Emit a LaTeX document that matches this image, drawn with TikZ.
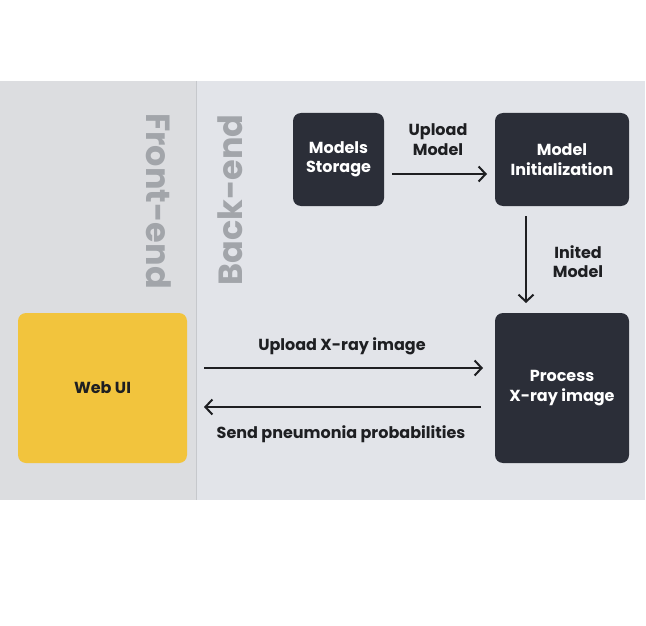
\documentclass[tikz,border=0pt]{standalone}
\usepackage{fontspec}
\setmainfont{Poppins}
\usetikzlibrary{arrows.meta}
\definecolor{febg}{HTML}{DCDDE0}
\definecolor{bebg}{HTML}{E2E4E9}
\definecolor{divline}{HTML}{C6C8CC}
\definecolor{darkbox}{HTML}{2B2E38}
\definecolor{yellowbox}{HTML}{F2C43D}
\definecolor{sidetext}{HTML}{A2A5AA}
\definecolor{ink}{HTML}{1E1F22}
\tikzset{
  darknode/.style={fill=darkbox, rounded corners=8pt, text=white, font=\bfseries\fontsize{16}{19.5}\selectfont, align=center, inner sep=0pt},
  yellownode/.style={fill=yellowbox, rounded corners=8pt, text=ink, font=\bfseries\fontsize{16}{19.5}\selectfont, align=center, inner sep=0pt},
  lbl/.style={text=ink, font=\bfseries\fontsize{16}{19.5}\selectfont, align=center, inner sep=0pt},
  side/.style={text=sidetext, font=\bfseries\fontsize{33.5}{36}\selectfont, inner sep=0pt},
  conn/.style={draw=ink, line width=2pt, -{Straight Barb[length=7pt,width=15pt,line width=2pt]}}
}
\begin{document}
\begin{tikzpicture}[x=1pt,y=-1pt]
\useasboundingbox (0,0) rectangle (646,626);
\fill[white] (0,0) rectangle (646,626);
\fill[febg] (0,81) rectangle (197,500);
\fill[bebg] (197,81) rectangle (645,500);
\draw[divline, line width=1pt] (196.5,81) -- (196.5,500);
\node[side, rotate=-90] (fe) at (159,201) {Front-end};
\node[side, rotate=90] (be) at (230,200) {Back-end};
\node[darknode, minimum width=91pt, minimum height=93pt] (ms) at (338.5,159.5) {Models\\Storage};
\node[darknode, minimum width=134pt, minimum height=93pt] (mi) at (562,159.5) {Model\\Initialization};
\node[darknode, minimum width=134pt, minimum height=150pt] (px) at (562,388) {Process\\X-ray image};
\node[yellownode, minimum width=169pt, minimum height=150pt] (web) at (102.5,388) {Web UI};
\coordinate (a1s) at (392,174);
\coordinate (a1e) at (487,174);
\draw[conn] (a1s) -- (a1e);
\node[lbl] (l1) at (438,139.5) {Upload\\Model};
\coordinate (a2s) at (526,216);
\coordinate (a2e) at (526,303);
\draw[conn] (a2s) -- (a2e);
\node[lbl] (l2) at (578,261.5) {Inited\\Model};
\coordinate (a3s) at (204,368);
\coordinate (a3e) at (483,368);
\draw[conn] (a3s) -- (a3e);
\node[lbl] (l3) at (342,346.5) {Upload X-ray image};
\coordinate (a4s) at (481,407);
\coordinate (a4e) at (204,407);
\draw[conn] (a4s) -- (a4e);
\node[lbl] (l4) at (341,434.5) {Send pneumonia probabilities};
\end{tikzpicture}
\end{document}
